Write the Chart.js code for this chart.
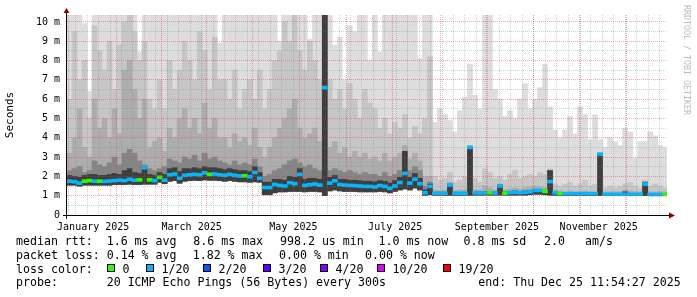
<!DOCTYPE html>
<html>
<head>
<meta http-equiv="Content-Type" content="text/html; charset=UTF-8">
<title>SmokePing - last 360 days</title>
<script src="https://cdn.jsdelivr.net/npm/chart.js@4.4.1/dist/chart.umd.min.js"></script>
<style>
    html, body { margin: 0; padding: 0; background: #ffffff; }
    canvas { display: block; }
</style>
</head>
<body>
<canvas id="ping" width="697" height="297"></canvas>
<script>
// x values are days since 1 Jan 2025, one slot = 3 days
var SLOT_DAYS = 3;
var FIRST_SLOT = 1.3;
var X_MIN = -0.2;
var X_MAX = 359.4;
var Y_MAX = 10.36;

// median rtt per slot (ms)
var MEDIAN = [
    1.75, 1.72, 1.65, 1.75, 1.78, 1.75, 1.75, 1.74, 1.76, 1.78,
    1.80, 1.78, 1.85, 1.80, 1.82, 2.45, 1.82, 1.78, 1.95, 1.80,
    2.08, 2.12, 1.90, 2.05, 2.08, 2.10, 2.08, 2.18, 2.10, 2.12,
    2.08, 2.05, 2.10, 2.05, 2.02, 2.03, 1.98, 2.20, 1.90, 1.42,
    1.42, 1.58, 1.53, 1.50, 1.67, 1.62, 2.10, 1.53, 1.57, 1.60,
    1.55, 6.60, 1.65, 1.77, 1.58, 1.55, 1.53, 1.52, 1.50, 1.48,
    1.48, 1.45, 1.52, 1.48, 1.38, 1.50, 1.68, 2.15, 1.65, 1.85,
    1.62, 1.15, 1.48, 1.12, 1.12, 1.12, 1.55, 1.13, 1.12, 1.12,
    3.50, 1.15, 1.14, 1.14, 1.15, 1.14, 1.50, 1.13, 1.16, 1.17,
    1.15, 1.17, 1.20, 1.27, 1.27, 1.22, 1.73, 1.15, 1.10, 1.10,
    1.10, 1.10, 1.10, 1.10, 1.10, 1.10, 3.15, 1.07, 1.07, 1.07,
    1.07, 1.07, 1.07, 1.07, 1.07, 1.60, 1.06, 1.06, 1.06, 1.07
];

// lost pings out of 20 per slot
var LOSS = [
    1, 1, 1, 0, 0, 1, 0, 1, 1, 1,
    1, 1, 1, 1, 0, 1, 0, 1, 0, 1,
    1, 1, 1, 1, 1, 1, 1, 1, 0, 1,
    1, 1, 1, 1, 1, 0, 1, 1, 1, 1,
    1, 1, 1, 1, 1, 1, 1, 1, 1, 1,
    1, 1, 1, 1, 1, 1, 1, 1, 1, 1,
    1, 1, 1, 1, 1, 1, 1, 1, 1, 1,
    1, 1, 1, 1, 1, 1, 1, 1, 1, 1,
    1, 1, 1, 1, 0, 1, 1, 0, 1, 1,
    1, 1, 1, 1, 1, 0, 1, 1, 0, 1,
    1, 1, 1, 1, 1, 1, 1, 1, 1, 1,
    1, 1, 1, 1, 1, 1, 1, 1, 1, 0
];

// smoke: bottom of the fastest pings
var SMOKE_LOW = [
    1.55, 1.55, 1.50, 1.55, 1.55, 1.55, 1.55, 1.55, 1.55, 1.58,
    1.58, 1.58, 1.60, 1.58, 1.58, 1.60, 1.60, 1.60, 1.70, 1.62,
    1.75, 1.78, 1.65, 1.75, 1.78, 1.80, 1.78, 1.82, 1.80, 1.80,
    1.78, 1.75, 1.78, 1.75, 1.72, 1.72, 1.70, 1.72, 1.70, 1.05,
    1.05, 1.15, 1.20, 1.20, 1.22, 1.22, 1.22, 1.20, 1.22, 1.22,
    1.20, 1.00, 1.25, 1.30, 1.25, 1.22, 1.22, 1.22, 1.20, 1.20,
    1.20, 1.20, 1.22, 1.20, 1.15, 1.22, 1.30, 1.35, 1.30, 1.40,
    1.30, 1.02, 1.05, 1.02, 1.02, 1.02, 1.02, 1.02, 1.02, 1.02,
    1.02, 1.03, 1.03, 1.03, 1.03, 1.03, 1.03, 1.03, 1.03, 1.03,
    1.03, 1.03, 1.05, 1.08, 1.08, 1.05, 1.03, 1.02, 1.00, 1.00,
    1.00, 1.00, 1.00, 1.00, 1.00, 1.00, 1.00, 1.00, 1.00, 1.00,
    1.00, 1.00, 1.00, 1.00, 1.00, 1.00, 1.00, 1.00, 1.00, 1.00
];

// smoke: top of the blackest band right around the median
var SMOKE_CORE = [
    2.05, 2.00, 1.95, 2.05, 2.10, 2.10, 2.05, 2.05, 2.10, 2.15,
    2.10, 2.30, 2.40, 2.20, 2.15, 2.50, 2.10, 2.05, 2.20, 2.10,
    2.40, 2.45, 2.25, 2.40, 2.40, 2.45, 2.40, 2.50, 2.45, 2.45,
    2.40, 2.35, 2.40, 2.35, 2.30, 2.30, 2.25, 2.50, 2.20, 1.70,
    1.70, 1.85, 1.85, 1.80, 2.00, 1.95, 2.40, 1.85, 1.90, 1.90,
    1.85, 10.36, 1.95, 2.05, 1.85, 1.85, 1.80, 1.80, 1.78, 1.75,
    1.75, 1.72, 1.78, 1.75, 1.65, 1.78, 1.95, 3.30, 1.95, 2.15,
    1.90, 1.30, 1.60, 1.18, 1.18, 1.18, 1.60, 1.18, 1.17, 1.18,
    3.50, 1.20, 1.20, 1.22, 1.20, 1.20, 1.55, 1.20, 1.22, 1.25,
    1.20, 1.25, 1.28, 1.32, 1.32, 1.28, 2.30, 1.20, 1.15, 1.15,
    1.15, 1.15, 1.15, 1.15, 1.15, 1.15, 3.15, 1.12, 1.12, 1.12,
    1.12, 1.20, 1.12, 1.12, 1.12, 1.70, 1.12, 1.12, 1.12, 1.12
];

// smoke: top of the dark band (pings close to the median)
var SMOKE_DARK = [
    2.3, 2.4, 2.5, 2.2, 2.3, 2.8, 2.6, 2.5, 2.7, 3.0,
    2.6, 3.2, 3.4, 3.2, 2.8, 2.6, 2.4, 2.3, 2.4, 2.5,
    2.9, 2.8, 2.7, 3.0, 2.9, 3.1, 2.8, 3.2, 2.9, 3.0,
    2.8, 2.7, 2.6, 2.8, 2.6, 2.7, 2.6, 2.9, 2.5, 2.0,
    2.1, 2.3, 2.4, 2.6, 2.8, 2.9, 2.7, 2.5, 2.6, 2.4,
    2.3, 10.36, 2.3, 2.4, 2.3, 2.2, 2.3, 2.2, 2.1, 2.2,
    2.1, 2.1, 2.0, 2.2, 2.0, 2.1, 2.3, 3.3, 2.3, 2.5,
    2.3, 1.5, 1.7, 1.18, 1.18, 1.18, 1.6, 1.18, 1.17, 1.18,
    3.5, 1.2, 1.2, 1.22, 1.2, 1.2, 1.55, 1.2, 1.22, 1.25,
    1.2, 1.25, 1.28, 1.32, 1.32, 1.28, 2.3, 1.2, 1.15, 1.15,
    1.15, 1.15, 1.15, 1.15, 1.15, 1.15, 3.15, 1.12, 1.12, 1.12,
    1.12, 1.2, 1.12, 1.12, 1.12, 1.7, 1.12, 1.12, 1.12, 1.12
];

// smoke: top of the middle band
var SMOKE_MID = [
    3.2, 4.0, 5.5, 3.5, 3.0, 6.0, 4.5, 5.0, 4.0, 5.5,
    4.2, 7.5, 8.0, 6.5, 5.0, 6.0, 3.5, 3.8, 4.0, 3.3,
    4.5, 4.0, 5.0, 5.5, 4.5, 5.0, 4.2, 5.8, 4.5, 5.0,
    4.0, 4.0, 3.5, 4.2, 3.8, 4.0, 3.6, 4.5, 3.5, 3.0,
    3.5, 4.0, 4.5, 5.0, 5.5, 6.0, 4.5, 4.0, 4.2, 4.5,
    3.8, 10.36, 3.5, 3.8, 3.2, 3.5, 3.0, 3.3, 3.0, 3.2,
    2.9, 3.0, 2.8, 3.2, 2.8, 3.0, 3.2, 3.6, 2.9, 3.2,
    2.8, 2.0, 2.0, 1.3, 1.25, 1.3, 1.7, 1.25, 1.3, 1.3,
    3.55, 1.3, 1.3, 1.5, 1.4, 1.3, 1.6, 1.3, 1.35, 1.4,
    1.35, 1.4, 1.45, 1.5, 1.45, 1.4, 2.3, 1.3, 1.25, 1.2,
    1.25, 1.2, 1.2, 1.25, 1.2, 1.2, 3.2, 1.2, 1.2, 1.2,
    1.2, 1.3, 1.25, 1.2, 1.2, 1.7, 1.2, 1.2, 1.2, 1.2
];

// smoke: top of the upper band
var SMOKE_HIGH = [
    6.0, 9.5, 7.0, 8.0, 5.0, 9.8, 8.5, 7.5, 9.0, 6.5,
    8.8, 10.0, 10.36, 9.5, 8.0, 9.0, 6.0, 5.5, 7.0, 5.5,
    8.0, 6.5, 7.5, 9.0, 8.0, 7.0, 9.5, 8.5, 6.5, 9.2,
    7.0, 7.0, 6.0, 7.5, 5.5, 6.5, 7.0, 6.0, 7.5, 5.5,
    6.5, 8.0, 8.5, 10.0, 9.0, 10.36, 8.5, 7.5, 9.0, 8.0,
    7.0, 10.36, 7.0, 6.0, 6.5, 5.5, 6.8, 6.0, 5.0, 6.5,
    5.8, 5.5, 4.5, 5.0, 4.2, 4.8, 4.5, 5.2, 4.0, 4.6,
    4.2, 5.0, 8.2, 2.0, 1.8, 1.9, 2.2, 1.7, 1.8, 2.0,
    3.6, 1.9, 1.7, 2.4, 2.2, 1.9, 2.0, 1.8, 2.1, 2.3,
    1.9, 2.0, 2.1, 2.0, 2.2, 2.1, 2.4, 1.6, 1.5, 1.6,
    1.7, 1.5, 1.6, 1.8, 1.5, 1.6, 3.2, 1.4, 1.5, 1.4,
    1.5, 1.6, 1.7, 1.5, 1.4, 1.8, 1.5, 1.6, 1.5, 1.4
];

// smoke: slowest ping per slot
var SMOKE_MAX = [
    10.36, 10.36, 10.36, 9.9, 6.4, 10.36, 10.36, 10.36, 10.36, 10.36,
    10.36, 10.36, 10.36, 10.36, 8.45, 10.36, 10.36, 10.36, 10.36, 10.36,
    10.36, 10.36, 10.36, 10.36, 10.36, 10.36, 10.36, 10.36, 10.36, 10.36,
    8.9, 10.36, 10.36, 10.36, 10.36, 10.36, 10.36, 10.36, 10.36, 10.36,
    10.36, 10.36, 9.0, 10.36, 10.36, 10.36, 10.36, 10.36, 9.1, 10.36,
    10.36, 10.36, 10.36, 8.8, 9.2, 7.0, 9.8, 9.5, 10.36, 10.36,
    8.0, 10.36, 8.45, 10.36, 10.36, 10.36, 10.36, 10.36, 10.36, 10.36,
    8.1, 10.36, 10.36, 4.8, 5.5, 5.2, 4.9, 4.3, 5.4, 6.1,
    7.8, 6.2, 5.5, 10.36, 10.36, 6.5, 6.0, 5.1, 5.4, 5.0,
    6.0, 6.8, 5.5, 6.0, 6.6, 7.8, 5.6, 4.4, 4.0, 4.4,
    5.1, 4.2, 5.6, 5.2, 3.9, 5.2, 3.9, 3.5, 4.0, 3.8,
    3.6, 4.5, 4.3, 2.95, 3.8, 3.8, 4.3, 4.1, 3.6, 3.5
];

// axis ticks (days since 1 Jan 2025)
var MONTH_STARTS = [0, 31, 59, 90, 120, 151, 181, 212, 243, 273, 304, 334];
var LABEL_DAYS = [15.5, 74.5, 135.5, 196.5, 257.5, 318.5];
var MONTH_LABELS = ['January 2025', 'March 2025', 'May 2025', 'July 2025', 'September 2025', 'November 2025'];
var FIRST_MONDAY = 5;
var Y_TICKS = [0, 1, 2, 3, 4, 5, 6, 7, 8, 9, 10];

// loss colours and legend
var LOSS_COLORS = { 0: '#26ff00', 1: '#00b8ff', 2: '#0059ff', 3: '#5e00ff', 4: '#7e00ff', 10: '#dd00ff', 19: '#ff0000' };
var LOSS_STEPS = [0, 1, 2, 3, 4, 10, 19];
var LOSS_NAMES = ['0', '1/20', '2/20', '3/20', '4/20', '10/20', '19/20'];
var LOSS_X = [107, 146, 203, 263, 320, 377, 443];
var ROW_RTT = [['median rtt:', 16], ['1.6 ms avg', 106.7], ['8.6 ms max', 193.3], ['998.2 us min', 280],
               ['1.0 ms now', 378.5], ['0.8 ms sd', 463.5], ['2.0', 544], ['am/s', 585]];
var ROW_LOSS = [['packet loss:', 16], ['0.14 % avg', 106.7], ['1.82 % max', 192.7], ['0.00 % min', 279], ['0.00 % now', 365]];
var ROW_PROBE = [['probe:', 16], ['20 ICMP Echo Pings (56 Bytes) every 300s', 106.7], ['end: Thu Dec 25 11:54:27 2025', 478.3]];

var MAJOR_GRID = 'rgba(230, 60, 60, 0.45)';
var MINOR_GRID = 'rgba(128, 128, 128, 0.35)';
var MONO = 'DejaVu Sans Mono';

Chart.defaults.font.family = MONO;
Chart.defaults.color = '#000000';

var slotDays = MEDIAN.map(function (m, i) { return FIRST_SLOT + i * SLOT_DAYS; });
var weekDays = [];
for (var d = FIRST_MONDAY; d < X_MAX; d += 7) weekDays.push(d);
var halfSteps = Y_TICKS.slice(0, -1).map(function (v) { return v + 0.5; });

function smokeBand(label, tops, color, order) {
    return {
        type: 'bar',
        label: label,
        data: slotDays.map(function (x, i) { return { x: x, y: [SMOKE_LOW[i], tops[i]] }; }),
        backgroundColor: color,
        borderWidth: 0,
        grouped: false,
        barPercentage: 1,
        categoryPercentage: 1,
        order: order
    };
}

function fixedTicks(values) {
    return function (scale) {
        scale.ticks = values.map(function (v) { return { value: v }; });
    };
}

function flatX(h) {
    return function (s) { s.height = h; s.paddingLeft = 0; s.paddingRight = 0; };
}
function flatY(w) {
    return function (s) { s.width = w; s.paddingTop = 0; s.paddingBottom = 0; };
}

// axes, arrows, legend text and the watermark are drawn around the plot
var rrdDecor = {
    id: 'rrdDecor',
    afterDraw: function (chart) {
        var ctx = chart.ctx;
        var a = chart.chartArea;
        ctx.save();
        ctx.strokeStyle = '#000000';
        ctx.lineWidth = 1;
        ctx.beginPath();
        ctx.moveTo(a.left - 4, a.bottom + 0.5);
        ctx.lineTo(a.right + 4, a.bottom + 0.5);
        ctx.moveTo(a.left - 0.5, a.bottom + 4);
        ctx.lineTo(a.left - 0.5, a.top - 4);
        ctx.stroke();

        ctx.fillStyle = '#8b0000';
        ctx.beginPath();
        ctx.moveTo(a.left - 0.5, a.top - 7);
        ctx.lineTo(a.left - 3.5, a.top - 2);
        ctx.lineTo(a.left + 2.5, a.top - 2);
        ctx.closePath();
        ctx.fill();
        ctx.beginPath();
        ctx.moveTo(a.right + 8, a.bottom + 0.5);
        ctx.lineTo(a.right + 2, a.bottom - 2.5);
        ctx.lineTo(a.right + 2, a.bottom + 3.5);
        ctx.closePath();
        ctx.fill();

        ctx.fillStyle = '#000000';
        ctx.font = '11.6px "' + MONO + '"';
        ctx.textBaseline = 'alphabetic';
        ROW_RTT.forEach(function (t) { ctx.fillText(t[0], t[1], 245); });
        ROW_LOSS.forEach(function (t) { ctx.fillText(t[0], t[1], 258.8); });
        ctx.fillText('loss color:', 16, 272.6);
        LOSS_STEPS.forEach(function (s, i) {
            ctx.fillStyle = LOSS_COLORS[s];
            ctx.fillRect(LOSS_X[i], 264, 8, 8);
            ctx.strokeStyle = '#000000';
            ctx.strokeRect(LOSS_X[i] + 0.5, 264.5, 7, 7);
            ctx.fillStyle = '#000000';
            ctx.fillText(LOSS_NAMES[i], LOSS_X[i] + 15.5, 272.6);
        });
        ROW_PROBE.forEach(function (t) { ctx.fillText(t[0], t[1], 286.4); });

        ctx.translate(684, 5);
        ctx.rotate(Math.PI / 2);
        ctx.fillStyle = '#bcbcbc';
        ctx.font = '8.3px "' + MONO + '"';
        ctx.fillText('RRDTOOL / TOBI OETIKER', 0, 0);
        ctx.restore();
    }
};

var chart = new Chart(document.getElementById('ping'), {
    type: 'bar',
    data: {
        datasets: [
            {
                type: 'bar',
                label: 'median rtt',
                data: slotDays.map(function (x, i) { return { x: x, y: [MEDIAN[i] - 0.075, MEDIAN[i] + 0.08] }; }),
                backgroundColor: LOSS.map(function (l) { return LOSS_COLORS[l]; }),
                borderWidth: 0,
                grouped: false,
                barPercentage: 1,
                categoryPercentage: 1,
                order: 0
            },
            smokeBand('smoke core', SMOKE_CORE, '#3e3e3e', 1),
            smokeBand('smoke dark', SMOKE_DARK, '#858585', 2),
            smokeBand('smoke mid', SMOKE_MID, '#adadad', 3),
            smokeBand('smoke high', SMOKE_HIGH, '#c6c6c6', 4),
            smokeBand('smoke max', SMOKE_MAX, '#dddddd', 5)
        ]
    },
    options: {
        responsive: false,
        animation: false,
        events: [],
        layout: { padding: { top: 15, right: 30, bottom: 0, left: 0 } },
        plugins: { legend: { display: false }, tooltip: { enabled: false } },
        scales: {
            x: {
                type: 'linear', position: 'bottom', min: X_MIN, max: X_MAX, offset: false,
                grid: { display: false, offset: false },
                border: { display: false },
                ticks: {
                    autoSkip: false, maxRotation: 0, minRotation: 0, padding: -2,
                    font: { size: 10 }, color: '#000000',
                    callback: function (v, i) { return MONTH_LABELS[i]; }
                },
                afterBuildTicks: fixedTicks(LABEL_DAYS),
                afterFit: flatX(82)
            },
            xWeek: {
                type: 'linear', position: 'bottom', min: X_MIN, max: X_MAX, display: true,
                ticks: { display: false },
                border: { display: false, dash: [1, 1] },
                grid: { color: MINOR_GRID, drawTicks: false, z: 1 },
                afterBuildTicks: fixedTicks(weekDays),
                afterFit: flatX(0)
            },
            xMonth: {
                type: 'linear', position: 'bottom', min: X_MIN, max: X_MAX, display: true,
                ticks: { display: false },
                border: { display: false, dash: [1, 1] },
                grid: { color: MAJOR_GRID, drawTicks: false, z: 2 },
                afterBuildTicks: fixedTicks(MONTH_STARTS),
                afterFit: flatX(0)
            },
            y: {
                type: 'linear', position: 'left', min: 0, max: Y_MAX,
                border: { display: false, dash: [1, 1] },
                grid: { color: MAJOR_GRID, drawTicks: false, z: 2 },
                ticks: {
                    padding: 7, font: { size: 10 }, color: '#000000',
                    callback: function (v) { return v === 0 ? '0' : v + ' m'; }
                },
                title: { display: true, text: 'Seconds', font: { size: 11 }, color: '#000000', padding: { top: 4, bottom: 0 } },
                afterBuildTicks: fixedTicks(Y_TICKS),
                afterFit: flatY(67)
            },
            yHalf: {
                type: 'linear', position: 'left', min: 0, max: Y_MAX, display: true,
                ticks: { display: false },
                border: { display: false, dash: [1, 1] },
                grid: { color: MINOR_GRID, drawTicks: false, z: 1 },
                afterBuildTicks: fixedTicks(halfSteps),
                afterFit: flatY(0)
            }
        }
    },
    plugins: [rrdDecor]
});
</script>
</body>
</html>
